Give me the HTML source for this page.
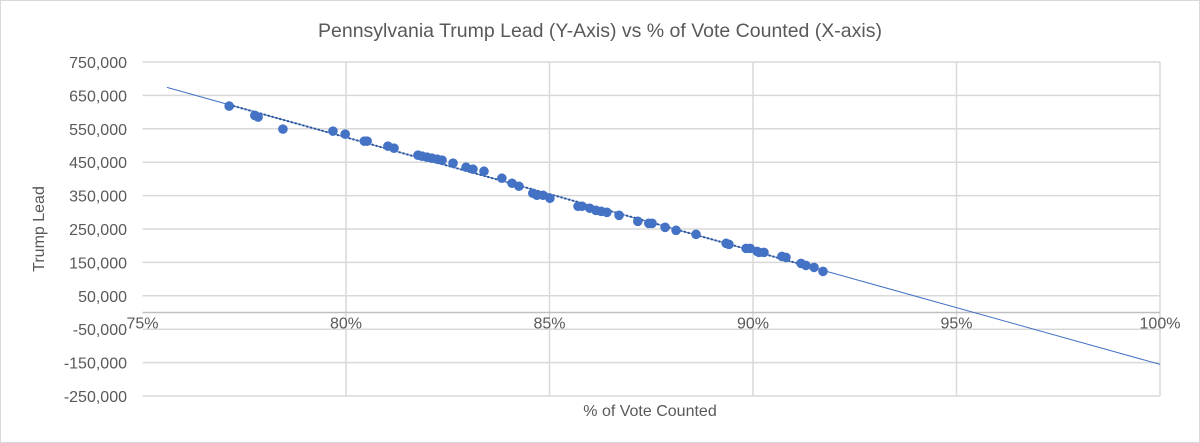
<!DOCTYPE html>
<html><head><meta charset="utf-8"><style>
html,body{margin:0;padding:0;background:#fff;}
svg{display:block;font-family:"Liberation Sans",Calibri,sans-serif;}
</style></head><body>
<svg id="chart" width="1200" height="443" viewBox="0 0 1200 443">
<rect x="0.5" y="0.5" width="1199" height="442" fill="#fff" stroke="#d9d9d9"/>
<text x="600" y="37" text-anchor="middle" font-size="19.5" fill="#595959">Pennsylvania Trump Lead (Y-Axis) vs % of Vote Counted (X-axis)</text>
<text transform="translate(44,229) rotate(-90)" text-anchor="middle" font-size="16" fill="#595959">Trump Lead</text>
<text x="650" y="416" text-anchor="middle" font-size="16" fill="#595959">% of Vote Counted</text>
<g id="grid"></g><g id="trend"></g><g id="pts"></g><g id="labels"></g>
</svg>
<script>
const xTicks=[75,80,85,90,95,100];
const yTicks=[750000,650000,550000,450000,350000,250000,150000,50000,-50000,-150000,-250000];
const pctCounted=[77.13,77.76,77.84,78.45,79.68,79.98,80.45,80.52,81.03,81.18,81.77,81.87,81.99,82.11,82.24,82.36,82.63,82.95,83.12,83.39,83.83,84.08,84.25,84.59,84.69,84.84,85.01,85.70,85.80,85.99,86.14,86.27,86.41,86.71,87.17,87.44,87.52,87.84,88.11,88.60,89.34,89.41,89.83,89.93,90.10,90.15,90.27,90.71,90.81,91.18,91.30,91.50,91.72];
const trumpLead=[618000,590000,585000,549000,543000,534000,513000,513000,498000,492000,471000,468000,465000,462000,459000,456000,447000,435000,429000,423000,402000,387000,378000,357000,351000,351000,342000,318000,318000,312000,306000,303000,300000,291000,273000,267000,267000,255000,246000,234000,207000,204000,192000,192000,183000,180000,180000,168000,165000,147000,141000,135000,123000];
const NS="http://www.w3.org/2000/svg";
const X0=142.5,X1=1160,Y0=312.5,PX=33.4/100000;
const xs=v=>X0+(v-75)/25*(X1-X0);
const ys=v=>Y0-v*PX;
function mk(t,a,p){const e=document.createElementNS(NS,t);for(const k in a)e.setAttribute(k,a[k]);p.appendChild(e);return e;}
const g=document.getElementById('grid'),lb=document.getElementById('labels');
const fmt=v=>(v<0?'-':'')+Math.abs(v).toLocaleString('en-US');
yTicks.forEach(v=>{
 const l=mk('line',{x1:X0,x2:X1,y1:ys(v),y2:ys(v),stroke:'#d9d9d9','stroke-width':1.5},g);
 
 
 const t=mk('text',{x:127,y:ys(v)+6,'text-anchor':'end','font-size':16,fill:'#595959'},lb);
 t.textContent=fmt(v);
 
 
});
xTicks.forEach(v=>{
 if(v>75){const l=mk('line',{x1:xs(v),x2:xs(v),y1:ys(750000),y2:ys(-250000),stroke:'#d9d9d9','stroke-width':1.5},g);
 
 }
 const t=mk('text',{x:xs(v),y:Y0+16,'text-anchor':'middle','font-size':16,fill:'#595959'},lb);
 t.textContent=v+'%';
 
 
});
const ax=mk('line',{x1:X0,x2:X1,y1:Y0,y2:Y0,stroke:'#bfbfbf','stroke-width':1.5},g);


const n=pctCounted.length;let sx=0,sy=0,sxx=0,sxy=0;
for(let i=0;i<n;i++){sx+=pctCounted[i];sy+=trumpLead[i];sxx+=pctCounted[i]**2;sxy+=pctCounted[i]*trumpLead[i];}
const m=(n*sxy-sx*sy)/(n*sxx-sx*sx),b=(sy-m*sx)/n,f=x=>m*x+b;
const tr=document.getElementById('trend');
const l1=mk('line',{x1:xs(75.6),y1:ys(f(75.6)),x2:xs(100),y2:ys(f(100)),stroke:'#4472c4','stroke-width':1},tr);


const mn=Math.min(...pctCounted),mx=Math.max(...pctCounted);
const l2=mk('line',{x1:xs(mn),y1:ys(f(mn)),x2:xs(mx),y2:ys(f(mx)),stroke:'#2f5597','stroke-width':2,'stroke-dasharray':'2 2'},tr);


const pg=document.getElementById('pts');
for(let i=0;i<n;i++){
 const c=mk('circle',{cx:xs(pctCounted[i]),cy:ys(trumpLead[i]),r:4.8,fill:'#4472c4'},pg);
 
 
}
</script>
</body></html>
